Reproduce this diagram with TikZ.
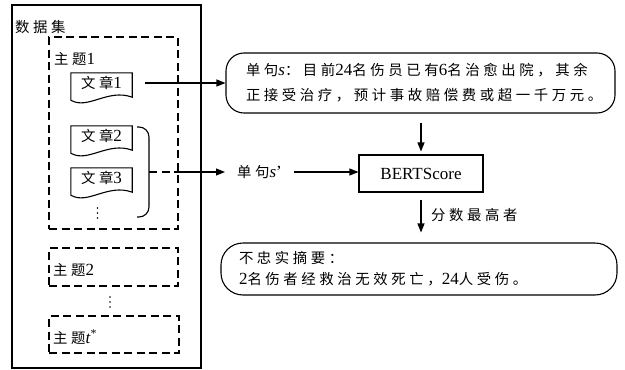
\documentclass[tikz,border=0pt]{standalone}
\usepackage{fontspec}
\setmainfont{Liberation Serif}
\newfontfamily\cjk[Scale=0.847,LetterSpace=25]{Noto Sans CJK SC}
\newcommand\zh[1]{{\cjk #1}}
\usetikzlibrary{arrows.meta,calc}

% document outline: flat top, wavy bottom edge below the text node
\newcommand\docoutline[1]{%
  \draw[ln] (#1.north west) -- (#1.north east) -- ($(#1.south east)+(0,4)$)
    .. controls ($(#1.south west)+(37,-5)$) and ($(#1.south west)+(17,17)$)
    .. ($(#1.south west)+(0,7)$) -- cycle;}

% three small dots stacked vertically around a named coordinate
\newcommand\vdotsat[1]{%
  \fill ($(#1)+(0,-5)$) circle (0.85pt) (#1) circle (0.85pt) ($(#1)+(0,5)$) circle (0.85pt);}

\tikzset{
  ln/.style={line width=1.1pt},
  box/.style={draw, ln, inner sep=0pt},
  dbox/.style={draw, ln, dash pattern=on 8pt off 4.5pt, inner sep=0pt},
  dashln/.style={ln, dash pattern=on 8pt off 4.5pt},
  lbl/.style={inner sep=0pt, font=\fontsize{17}{20}\selectfont},
  doc/.style={minimum width=61pt, minimum height=20pt, inner sep=0pt, font=\fontsize{17}{20}\selectfont},
  arr/.style={ln, -{Triangle[length=9pt,width=7pt]}},
  rbox/.style={draw, ln, align=left},
}

\begin{document}
\begin{tikzpicture}[x=1pt, y=-1pt]
\useasboundingbox (0,0) rectangle (625,370);

% data set and its topics
\node[box, minimum width=189pt, minimum height=363pt] (ds) at (106.5,186.5) {};
\node[lbl, anchor=west] (dsl) at (15,27) {\zh{数据集}};

\node[dbox, minimum width=129pt, minimum height=192pt] (t1) at (113.5,133) {};
\node[lbl, anchor=west] (t1l) at (54,59) {\zh{主题}1};

\node[doc] (d1) at (101.5,83) {\zh{文章}1};
\node[doc] (d2) at (101.5,136) {\zh{文章}2};
\node[doc] (d3) at (101.5,178) {\zh{文章}3};
\docoutline{d1}
\docoutline{d2}
\docoutline{d3}
\coordinate (v1) at (97.5,213);
\vdotsat{v1}

% bracket grouping the remaining articles
\coordinate (bt) at (137,127);
\coordinate (bm) at (149,172);
\coordinate (bb) at (137,217);
\draw[ln, rounded corners=10pt] (bt) -- (bt -| bm) -- (bb -| bm) -- (bb);

\node[dbox, minimum width=129pt, minimum height=38pt] (t2) at (113.5,267) {};
\node[lbl, anchor=west] (t2l) at (53,270) {\zh{主题}2};
\coordinate (v2) at (110,302);
\vdotsat{v2}
\node[dbox, minimum width=130pt, minimum height=37pt] (t3) at (114,334.5) {};
\node[lbl, anchor=west] (t3l) at (53,337) {\zh{主题}\textit{t}\textsuperscript{*}};

% right-hand pipeline
\node[rbox, rounded corners=18pt, minimum height=60pt, text width=349pt, inner xsep=20pt,
      font=\fontsize{17}{25}\selectfont] (sent) at (420.5,83)
  {\zh{单句}\textit{s}\zh{：目前}24\zh{名伤员已有}6\zh{名治愈出院，其余}\\
   \zh{正接受治疗，预计事故赔偿费或超一千万元。}};

\node[box, minimum width=124pt, minimum height=37pt, font=\fontsize{17}{20}\selectfont] (bert) at (421,173.5) {BERTScore};

\node[lbl, anchor=west] (sp) at (237,172) {\zh{单句}\textit{s}'};

\node[rbox, rounded corners=22pt, minimum height=52pt, text width=360pt, inner xsep=18pt,
      font=\fontsize{17}{21}\selectfont] (summ) at (419,269)
  {\zh{不忠实摘要：}\\
   2\zh{名伤者经救治无效死亡，}24\zh{人受伤。}};

\node[lbl, anchor=west] (score) at (431,215) {\zh{分数最高者}};

% connectors
\draw[arr, shorten <=13pt] (d1.east) -- (d1.east -| sent.west);
\draw[dashln] (bm) -- (bm -| t1.east);
\draw[arr, shorten >=12pt] (bm -| t1.east) -- (sp.west);
\draw[arr, shorten <=12pt] (sp.east) -- (sp.east -| bert.west);
\draw[arr, shorten <=9pt, shorten >=3pt] (sent.south -| bert.north) -- (bert.north);
\draw[arr, shorten <=7pt, shorten >=10pt] (bert.south) -- (bert.south |- summ.north);
\end{tikzpicture}
\end{document}
